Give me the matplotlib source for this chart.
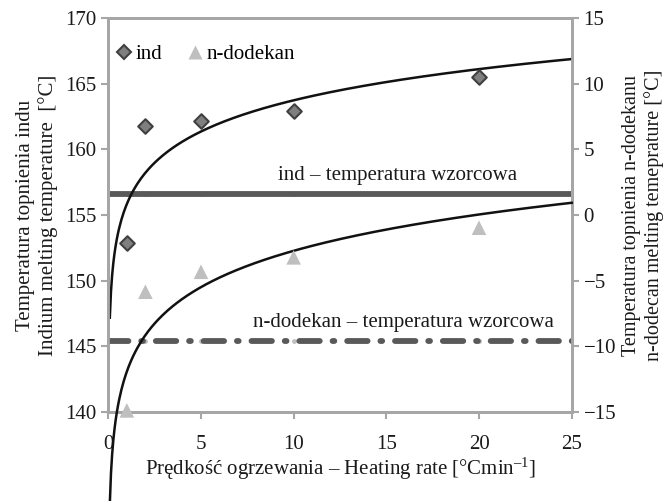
import numpy as np
import matplotlib.pyplot as plt
from matplotlib.lines import Line2D

plt.rcParams['font.family'] = ['Liberation Serif', 'DejaVu Serif']
plt.rcParams['mathtext.fontset'] = 'custom'
plt.rcParams['mathtext.rm'] = 'Liberation Serif'
plt.rcParams['mathtext.it'] = 'Liberation Serif:italic'

# szybkosc ogrzewania [°C/min]
rates = [1, 2, 5, 10, 20]
# temperatura topnienia indu (lewa os)
ind_temp = [152.9, 161.8, 162.2, 162.9, 165.5]
# temperatura topnienia n-dodekanu (prawa os)
dod_temp = [-14.9, -5.85, -4.33, -3.23, -0.97]
ind_ref = 156.6
dod_ref = -9.6

gray = '#a6a6a6'
txt = '#1a1a1a'
fs = 15

fig = plt.figure(figsize=(6.72, 5.01), dpi=100)
ax = fig.add_axes([0.1612, 0.1782, 0.6895, 0.7853])
ax2 = ax.twinx()

# linie trendu (logarytmiczne)
xs = np.linspace(0.08, 25, 400)
a1, b1 = np.polyfit(np.log(rates), ind_temp, 1)
a2, b2 = np.polyfit(np.log(rates), dod_temp, 1)

ax.plot([0, 25], [ind_ref, ind_ref], color='#595959', lw=4.2, solid_capstyle='round', zorder=2)
ax.plot(rates, [ind_ref] * len(rates), ls='none', marker='o', ms=2.5, color='#bfbfbf', zorder=1)
ax2.plot([0, 25], [dod_ref, dod_ref], color='#595959', lw=4.2,
         linestyle=(0, (3.5, 2.2, 0.3, 2.2)), dash_capstyle='round', zorder=2)
ax2.plot(rates, [dod_ref] * len(rates), ls='none', marker='o', ms=2.5, color='#bfbfbf', zorder=1)

ax.plot(xs, a1 * np.log(xs) + b1, color='#111111', lw=1.8, clip_on=False, zorder=3)
ax2.plot(xs, a2 * np.log(xs) + b2, color='#111111', lw=1.8, clip_on=False, zorder=3)

ax.scatter(rates, ind_temp, marker='D', s=55, facecolor='#7f7f7f', edgecolor='#404040',
           linewidth=1.5, zorder=4, clip_on=False)
ax2.scatter(rates, dod_temp, marker='^', s=110, facecolor='#bfbfbf', edgecolor='none',
            zorder=4, clip_on=False)

ax.set_xlim(0, 25)
ax.set_ylim(140, 170)
ax2.set_ylim(-15, 15)
ax.set_xticks([0, 5, 10, 15, 20, 25])
ax.set_yticks(np.arange(140, 171, 5))
ax2.set_yticks(np.arange(-15, 16, 5))
ax2.set_yticklabels(['\u221215', '\u221210', '\u22125', '0', '5', '10', '15'])

for a in (ax, ax2):
    for s in a.spines.values():
        s.set_color(gray)
        s.set_linewidth(2)
    a.tick_params(colors=gray, labelcolor=txt, labelsize=fs, width=1.5, length=5, direction='out')
ax.tick_params(axis='x', pad=12)

ax.set_xlabel('Prędkość ogrzewania – Heating rate [°Cmin$^{\u2013 1}$]', fontsize=fs, color=txt, labelpad=1)
ax.set_ylabel('Temperatura topnienia indu\nIndium melting temperature  [°C]', fontsize=fs,
              color=txt, linespacing=1.2, labelpad=5)
ax2.set_ylabel('Temperatura topnienia n-dodekanu\nn-dodecan melting temeprature [°C]', fontsize=14.5,
               color=txt, linespacing=1.25, labelpad=4)

ax.text(15.6, 157.3, 'ind – temperatura wzorcowa', ha='center', va='bottom', fontsize=fs, color=txt)
ax2.text(15.9, -8.9, 'n-dodekan – temperatura wzorcowa', ha='center', va='bottom', fontsize=fs,
         color=txt)

handles = [
    Line2D([], [], ls='none', marker='D', ms=7, mfc='#7f7f7f', mec='#404040', mew=1.5),
    Line2D([], [], ls='none', marker='^', ms=10, mfc='#bfbfbf', mec='none'),
]
ax.legend(handles, ['ind', 'n-dodekan'], loc='upper left', ncol=2, frameon=False, fontsize=fs,
          handletextpad=0.0, columnspacing=1.0, handlelength=1.1, borderaxespad=0.3,
          bbox_to_anchor=(-0.022, 0.97))

fig.savefig('out.png', dpi=100)
